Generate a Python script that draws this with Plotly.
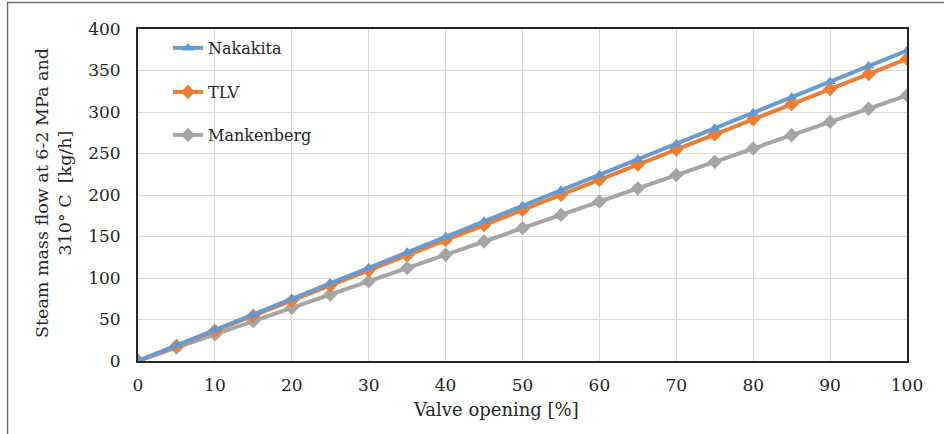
import plotly.graph_objects as go

valve_opening = [0, 5, 10, 15, 20, 25, 30, 35, 40, 45, 50, 55, 60, 65, 70, 75, 80, 85, 90, 95, 100]
nakakita = [0, 18.7, 37.4, 56.1, 74.8, 93.5, 112.2, 130.9, 149.6, 168.3, 187.0, 205.7, 224.4, 243.1, 261.8, 280.5, 299.2, 317.9, 336.6, 355.3, 374.0]
tlv = [0, 18.2, 36.4, 54.6, 72.8, 91.0, 109.2, 127.4, 145.6, 163.8, 182.0, 200.2, 218.4, 236.6, 254.8, 273.0, 291.2, 309.4, 327.6, 345.8, 364.0]
mankenberg = [0, 16, 32, 48, 64, 80, 96, 112, 128, 144, 160, 176, 192, 208, 224, 240, 256, 272, 288, 304, 320]

FONT = "DejaVu Serif"
L, R, T, B = 138, 37, 29, 73
W, H = 944, 434
pw, ph = W - L - R, H - T - B

def px(x):
    return (x - L) / pw

def py(y):
    return (H - B - y) / ph

fig = go.Figure()
fig.add_trace(go.Scatter(x=valve_opening, y=mankenberg, name="Mankenberg", mode="lines+markers",
                         line=dict(color="#A5A5A5", width=4),
                         marker=dict(symbol="diamond", size=11, color="#A5A5A5"), legend="legend3"))
fig.add_trace(go.Scatter(x=valve_opening, y=tlv, name="TLV", mode="lines+markers",
                         line=dict(color="#ED7D31", width=4),
                         marker=dict(symbol="diamond", size=11, color="#ED7D31"), legend="legend2"))
fig.add_trace(go.Scatter(x=valve_opening, y=nakakita, name="Nakakita", mode="lines+markers",
                         line=dict(color="#6A9AD0", width=4),
                         marker=dict(symbol="triangle-up", size=10, color="#5B9BD5"), legend="legend"))

leg_common = dict(xanchor="left", yanchor="middle", bgcolor="rgba(0,0,0,0)",
                  font=dict(family=FONT, size=16, color="#262626"), itemwidth=30)
fig.update_layout(
    width=W, height=H,
    margin=dict(l=L, r=R, t=T, b=B),
    paper_bgcolor="white", plot_bgcolor="white",
    font=dict(family=FONT, size=16, color="#262626"),
    showlegend=True,
    legend=dict(x=px(168), y=py(48), **leg_common),
    legend2=dict(x=px(168), y=py(92), **leg_common),
    legend3=dict(x=px(168), y=py(135), **leg_common),
    xaxis=dict(range=[0, 100], tickmode="linear", tick0=0, dtick=10,
               showgrid=True, gridcolor="#D9D9D9", gridwidth=1,
               showline=True, linecolor="#262626", linewidth=2, mirror=True,
               zeroline=False, ticks="", ticklabelstandoff=8,
               tickfont=dict(family=FONT, size=17, color="#262626")),
    yaxis=dict(range=[0, 400], tickmode="linear", tick0=0, dtick=50,
               showgrid=True, gridcolor="#D9D9D9", gridwidth=1,
               showline=True, linecolor="#262626", linewidth=2, mirror=True,
               zeroline=False, ticks="", ticklabelstandoff=12,
               tickfont=dict(family=FONT, size=17, color="#262626")),
    annotations=[
        dict(text="Steam mass flow at 6-2 MPa and<br>310° C  [kg/h]", xref="paper", yref="paper",
             x=px(53), y=py(193), textangle=-90, showarrow=False, xanchor="center", yanchor="middle",
             font=dict(family=FONT, size=17.5, color="#262626")),
        dict(text="Valve opening [%]", xref="paper", yref="paper",
             x=px(496), y=py(409), showarrow=False, xanchor="center", yanchor="middle",
             font=dict(family=FONT, size=18, color="#262626")),
    ],
    shapes=[
        dict(type="line", xref="paper", yref="paper", x0=px(7), x1=px(944), y0=py(2.5), y1=py(2.5),
             line=dict(color="#6E6E6E", width=1.5)),
        dict(type="line", xref="paper", yref="paper", x0=px(7.5), x1=px(7.5), y0=py(2.5), y1=py(434),
             line=dict(color="#6E6E6E", width=1.5)),
    ],
)

fig.write_html("out.html", config={"displayModeBar": False},
               post_script="document.body.style.margin='0';document.body.style.padding='0';")
